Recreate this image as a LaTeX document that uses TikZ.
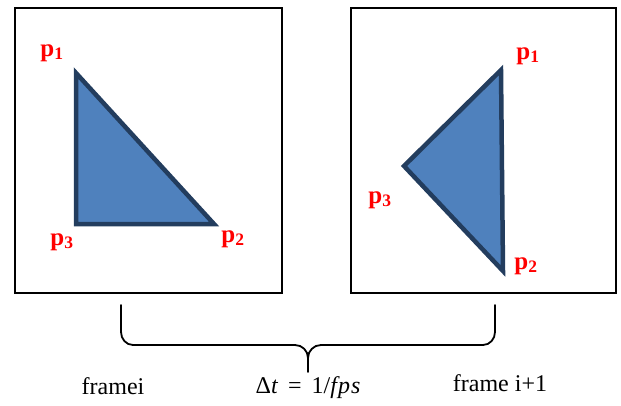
\documentclass[tikz,border=0pt]{standalone}
\usepackage{fontspec}
\setmainfont{Liberation Serif}
\usepackage{amsmath}
\usetikzlibrary{positioning}

\definecolor{triblue}{HTML}{4F81BD}
\definecolor{trinavy}{HTML}{233D5E}

\begin{document}
\begin{tikzpicture}[
    x=1pt, y=-1pt,
    framebox/.style = {draw,line width=2pt},
    tri/.style      = {draw=trinavy,fill=triblue,line width=4.5pt,line join=miter},
    plbl/.style     = {text=red,inner sep=0pt,font=\fontsize{25}{25}\selectfont\bfseries},
    captxt/.style   = {inner sep=0pt,font=\fontsize{24}{26}\selectfont},
    brace/.style    = {draw,line width=1.8pt,line cap=round}
  ]
  \useasboundingbox (0,0) rectangle (621,405);

  % the two frames
  \draw[framebox] (15,8) rectangle (282,293);
  \draw[framebox] (351,8) rectangle (616,293);

  % frame i
  \coordinate (A1) at (76,73);
  \coordinate (A2) at (214,224);
  \coordinate (A3) at (76,224);
  \draw[tri] (A1) -- (A2) -- (A3) -- cycle;

  % frame i+1
  \coordinate (B1) at (501,70);
  \coordinate (B2) at (503,271);
  \coordinate (B3) at (404,166);
  \draw[tri] (B1) -- (B2) -- (B3) -- cycle;

  \foreach \n/\i/\x/\y in {LA1/1/52/53, LA2/2/233/239, LA3/3/62/242,
                           LB1/1/528/56, LB2/2/526/266, LB3/3/380/200} {
    \node[plbl] (\n) at (\x,\y) {p\textsubscript{\i}};
  }

  % brace between the frames
  \coordinate (BL) at (121,305);
  \coordinate (BR) at (495,305);
  \coordinate (BT) at (308,372);
  \draw[brace] (BL) -- (121,332) to[out=-90,in=180] (133,345) -- (295,345)
               to[out=0,in=90] (308,358) -- (BT);
  \draw[brace] (BR) -- (495,332) to[out=-90,in=0] (483,345) -- (321,345)
               to[out=180,in=90] (308,358);

  \node[captxt] (fi)  at (113,386) {framei};
  \node[captxt] (dt)  at (308,388) {Δ\textit{t}\,\ =\ \,1/\textit{f\kern1pt p\kern1pt s}};
  \node[captxt] (fi1) at (500,383) {frame i+1};

\end{tikzpicture}
\end{document}
